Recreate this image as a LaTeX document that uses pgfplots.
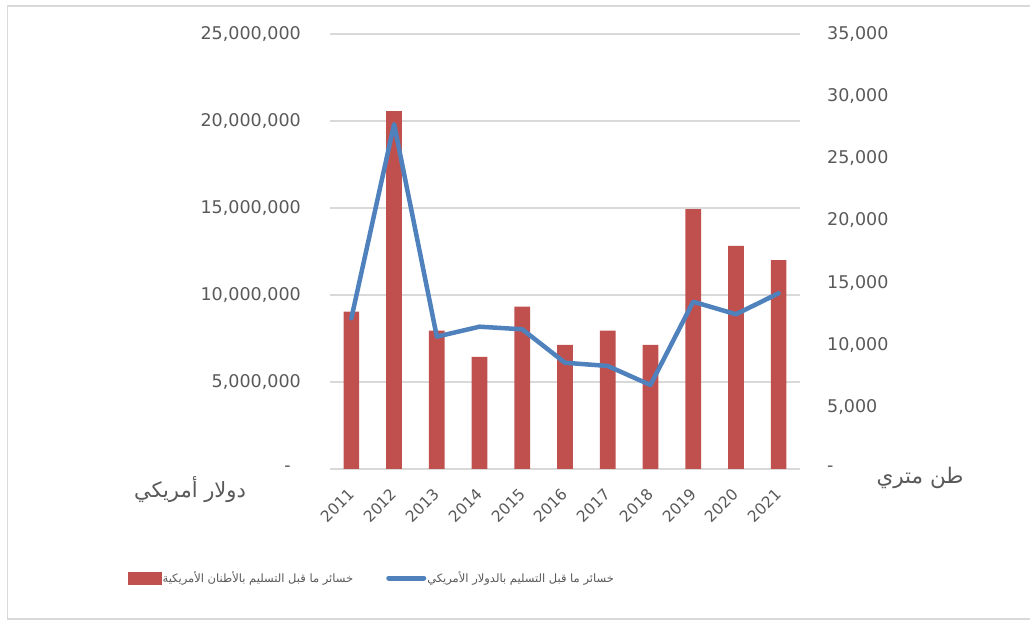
\documentclass[border=0pt]{standalone}
\usepackage{fontspec}
\setmainfont{DejaVu Sans}
\newfontfamily\arabicfont[Script=Arabic]{DejaVu Sans}
\TeXXeTstate=1
\usepackage{pgfplots}
\pgfplotsset{compat=1.18}
\definecolor{barred}{HTML}{C0504D}
\definecolor{lineblue}{HTML}{4F81BD}
\definecolor{gridgray}{HTML}{D9D9D9}
\definecolor{tickgray}{HTML}{595959}
\begin{document}
\begin{tikzpicture}[x=1pt,y=1pt]
\useasboundingbox (0,0) rectangle (1030,621);
\draw[gridgray, line width=1.2pt] (1032,615) -- (7.5,615) -- (7.5,2) -- (1032,2);
\begin{axis}[
  at={(330pt,152pt)}, anchor=south west, width=470pt, height=435pt, scale only axis,
  xmin=-0.5, xmax=10.5, ymin=0, ymax=25000000,
  xtick={0,1,2,3,4,5,6,7,8,9,10},
  xticklabels={2011,2012,2013,2014,2015,2016,2017,2018,2019,2020,2021},
  ytick={0,5000000,10000000,15000000,20000000,25000000},
  yticklabels={{-\rule{10pt}{0pt}},{5,000,000},{10,000,000},{15,000,000},{20,000,000},{25,000,000}},
  scaled y ticks=false,
  ymajorgrids, grid style={gridgray, line width=1.3pt},
  axis line style={draw=none}, major tick length=0pt, tick style={draw=none},
  yticklabel style={font=\fontsize{17.5}{20}\selectfont, text=tickgray, anchor=east, inner sep=0pt},
  yticklabel shift=29pt,
  xticklabel style={font=\fontsize{15.5}{18}\selectfont, text=tickgray, anchor=east, rotate=45, inner sep=0pt},
  xticklabel shift=22pt,
  ybar, bar width=15.7pt,
]
\addplot[fill=barred, draw=none] coordinates {
 (0,9040000) (1,20570000) (2,7950000) (3,6450000) (4,9330000) (5,7130000)
 (6,7950000) (7,7130000) (8,14940000) (9,12830000) (10,12000000)};
\end{axis}
\begin{axis}[
  at={(330pt,152pt)}, anchor=south west, width=470pt, height=435pt, scale only axis,
  xmin=-0.5, xmax=10.5, ymin=0, ymax=35000,
  axis x line=none, axis y line*=right, axis line style={draw=none},
  major tick length=0pt, tick style={draw=none},
  ytick={0,5000,10000,15000,20000,25000,30000,35000},
  yticklabels={{-},{5,000},{10,000},{15,000},{20,000},{25,000},{30,000},{35,000}},
  scaled y ticks=false,
  yticklabel style={font=\fontsize{17.5}{20}\selectfont, text=tickgray, anchor=west, inner sep=0pt},
  yticklabel shift=27pt,
  legend columns=2,
  legend style={at={(-0.4298,-0.2506)}, anchor=west, draw=none, fill=none,
    inner sep=0pt, font=\arabicfont\fontsize{11.5}{14}\selectfont, text=tickgray,
    nodes={inner sep=1pt},
    /tikz/every even column/.append style={column sep=32pt}},
]
\addlegendimage{legend image code/.code={\fill[barred] (0pt,-6pt) rectangle (33pt,6pt);}}
\addlegendentry{\beginR خسائر ما قبل التسليم بالأطنان الأمريكية\endR}
\addplot[lineblue, line width=4.5pt, line join=round, line cap=round,
  legend image code/.code={\draw[lineblue, line width=5pt] (0pt,0pt) -- (35pt,0pt);}]
  coordinates {
 (0,12125) (1,27750) (2,10650) (3,11450) (4,11240) (5,8550)
 (6,8290) (7,6760) (8,13460) (9,12450) (10,14140)};
\addlegendentry{\beginR خسائر ما قبل التسليم بالدولار  الأمريكي\endR}
\end{axis}
\node[font=\arabicfont\fontsize{21}{24}\selectfont, text=tickgray] at (190,131) {\beginR دولار أمريكي\endR};
\node[font=\arabicfont\fontsize{21.5}{24}\selectfont, text=tickgray] at (920,143) {\beginR طن متري\endR};
\end{tikzpicture}
\end{document}
